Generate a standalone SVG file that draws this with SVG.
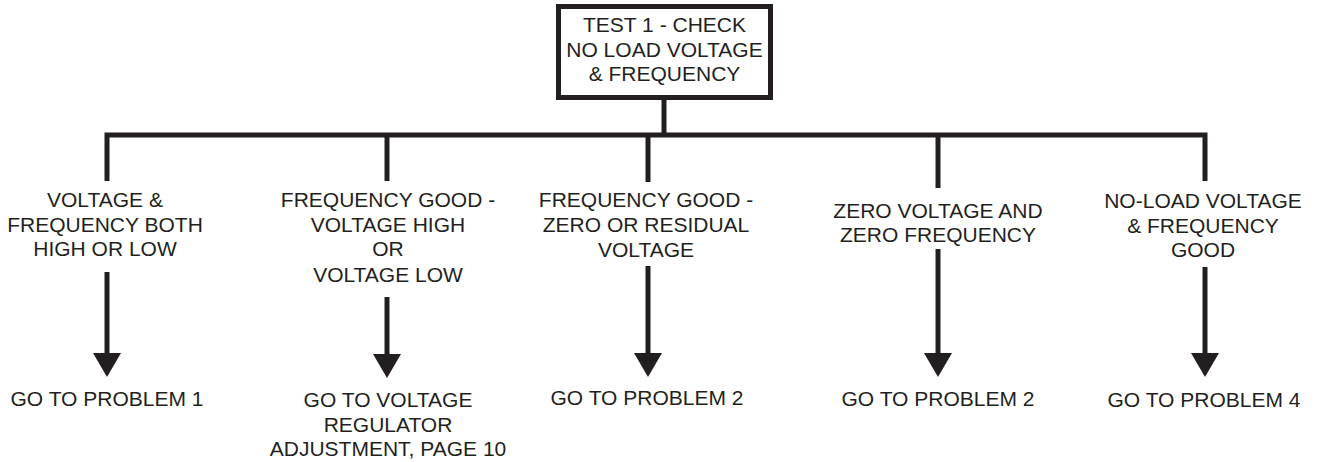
<svg xmlns="http://www.w3.org/2000/svg" width="1319" height="462" viewBox="0 0 1319 462">
<style>
.ln{fill:none;stroke:#231f20;stroke-width:5;stroke-linejoin:miter}
.ah{fill:#231f20}
text{font-family:"Liberation Sans",Arial,sans-serif;font-size:21px;fill:#231f20;text-anchor:middle}
</style>
<rect width="1319" height="462" fill="#ffffff"/>
<g id="test1">
<rect x="558.5" y="6.5" width="212" height="91" fill="#ffffff" stroke="#231f20" stroke-width="5"/>
<text x="664.5" y="32">TEST 1 - CHECK</text>
<text x="664.5" y="57">NO LOAD VOLTAGE</text>
<text x="664.5" y="81">&amp; FREQUENCY</text>
</g>
<g id="connectors">
<path class="ln" d="M664,100 V135"/>
<path class="ln" d="M107,181 V135 H1205 V181"/>
<path class="ln" d="M387,135 V181"/>
<path class="ln" d="M648,135 V182"/>
<path class="ln" d="M938,135 V188"/>
<path class="ln" d="M107,272 V354"/>
<polygon class="ah" points="93,353 121,353 107,377"/>
<path class="ln" d="M387,297 V355"/>
<polygon class="ah" points="373,354 401,354 387,378"/>
<path class="ln" d="M648,266 V354"/>
<polygon class="ah" points="634,353 662,353 648,377"/>
<path class="ln" d="M938,249 V354"/>
<polygon class="ah" points="924,353 952,353 938,377"/>
<path class="ln" d="M1205,267 V354"/>
<polygon class="ah" points="1191,353 1219,353 1205,377"/>
</g>
<g id="cond1">
<text x="105" y="207">VOLTAGE &amp;</text>
<text x="105" y="232">FREQUENCY BOTH</text>
<text x="105" y="256">HIGH OR LOW</text>
</g>
<g id="cond2">
<text x="388" y="207">FREQUENCY GOOD -</text>
<text x="388" y="232">VOLTAGE HIGH</text>
<text x="388" y="256">OR</text>
<text x="388" y="282">VOLTAGE LOW</text>
</g>
<g id="cond3">
<text x="646" y="207">FREQUENCY GOOD -</text>
<text x="646" y="232">ZERO OR RESIDUAL</text>
<text x="646" y="257">VOLTAGE</text>
</g>
<g id="cond4">
<text x="938" y="218">ZERO VOLTAGE AND</text>
<text x="938" y="242">ZERO FREQUENCY</text>
</g>
<g id="cond5">
<text x="1203" y="208">NO-LOAD VOLTAGE</text>
<text x="1203" y="233">&amp; FREQUENCY</text>
<text x="1203" y="257">GOOD</text>
</g>
<g id="result1"><text x="107" y="406">GO TO PROBLEM 1</text></g>
<g id="result2">
<text x="388" y="407">GO TO VOLTAGE</text>
<text x="388" y="432">REGULATOR</text>
<text x="388" y="456">ADJUSTMENT, PAGE 10</text>
</g>
<g id="result3"><text x="647" y="405">GO TO PROBLEM 2</text></g>
<g id="result4"><text x="938" y="406">GO TO PROBLEM 2</text></g>
<g id="result5"><text x="1204" y="407">GO TO PROBLEM 4</text></g>
</svg>
